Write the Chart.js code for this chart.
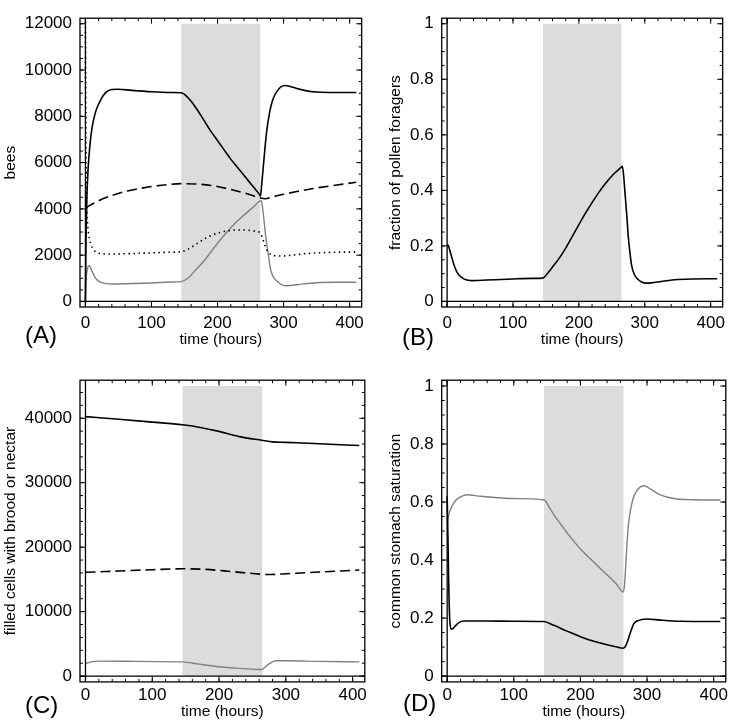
<!DOCTYPE html>
<html>
<head>
<meta charset="utf-8">
<script src="https://cdn.jsdelivr.net/npm/chart.js@4.4.1/dist/chart.umd.min.js"></script>
<style>
html, body { margin: 0; padding: 0; background: #fff; overflow: hidden; }
#fig { position: relative; width: 729px; height: 723px; }
#fig canvas { position: absolute; }
.tag { position: absolute; font: 24px "Liberation Sans", Arial, sans-serif; line-height: 24px; color: #000; }
</style>
</head>
<body>
<div id="fig">
  <canvas id="chartA" width="370" height="352" style="left:0;top:0"></canvas>
  <canvas id="chartB" width="361" height="352" style="left:370px;top:0"></canvas>
  <canvas id="chartC" width="370" height="361" style="left:0;top:362px"></canvas>
  <canvas id="chartD" width="361" height="361" style="left:370px;top:362px"></canvas>
  <div class="tag" style="left:25px;top:323px">(A)</div>
  <div class="tag" style="left:402px;top:325px">(B)</div>
  <div class="tag" style="left:25px;top:693px">(C)</div>
  <div class="tag" style="left:403px;top:691px">(D)</div>
</div>
<script>
// time axis and the shaded interval (hours)
var hourTicks = [0, 100, 200, 300, 400];
var shadeHours = [145, 265];

// (A) bees
var beesTicks = [0, 2000, 4000, 6000, 8000, 10000, 12000];
var beesLabels = ['0', '2000', '4000', '6000', '8000', '10000', '12000'];
var hA1 = [0, 0.5, 1, 2, 4, 7, 10, 14, 18, 22, 27, 33, 40, 50, 70, 100, 130, 145, 150, 160, 170, 180, 190, 200, 210, 220, 230, 240, 250, 258, 264, 265, 267, 270, 274, 279, 284, 290, 296, 302, 310, 320, 335, 350, 380, 410];
var beesSolid = [0, 1500, 2800, 4300, 5700, 6800, 7500, 8050, 8400, 8650, 8900, 9080, 9160, 9170, 9120, 9060, 9030, 9020, 8950, 8650, 8250, 7800, 7350, 6950, 6550, 6150, 5800, 5450, 5100, 4820, 4600, 4550, 5100, 6050, 7250, 8200, 8750, 9080, 9270, 9330, 9290, 9200, 9100, 9050, 9030, 9030];
var hA2 = [0, 20, 40, 65, 90, 115, 145, 170, 195, 220, 245, 264, 272, 285, 300, 320, 345, 370, 390, 410];
var beesDashed = [4050, 4350, 4580, 4780, 4920, 5020, 5090, 5070, 4990, 4840, 4650, 4480, 4440, 4530, 4630, 4750, 4880, 4990, 5070, 5150];
var hA3 = [0, 0.5, 1, 2, 3, 5, 8, 12, 17, 25, 40, 70, 100, 130, 145, 155, 170, 185, 200, 215, 230, 245, 258, 264, 268, 272, 276, 282, 290, 300, 315, 335, 360, 390, 410];
var beesDotted = [12300, 8500, 6000, 4200, 3500, 2900, 2500, 2250, 2120, 2060, 2050, 2070, 2100, 2130, 2150, 2250, 2520, 2780, 2950, 3050, 3090, 3080, 3030, 2980, 2750, 2400, 2150, 2010, 1970, 1965, 2010, 2070, 2110, 2130, 2130];
var hA4 = [0, 1, 3, 5, 7, 10, 15, 20, 25, 32, 40, 60, 100, 130, 145, 155, 165, 180, 195, 210, 225, 240, 255, 263, 266, 268, 270, 272, 275, 278, 280, 284, 290, 296, 302, 310, 325, 350, 380, 410];
var beesGrey = [0, 900, 1400, 1550, 1500, 1300, 1020, 880, 810, 770, 755, 765, 800, 840, 855, 1000, 1300, 1770, 2330, 2860, 3340, 3730, 4100, 4320, 4350, 4100, 3600, 3050, 2390, 1800, 1420, 1080, 880, 740, 680, 690, 740, 810, 830, 830];

// (B) fraction of pollen foragers
var fracTicks = [0, 0.2, 0.4, 0.6, 0.8, 1];
var fracLabels = ['0', '0.2', '0.4', '0.6', '0.8', '1'];
var hB = [0, 2, 4, 7, 10, 14, 18, 24, 30, 40, 60, 100, 130, 145, 152, 160, 170, 180, 190, 200, 210, 220, 230, 240, 250, 258, 264, 266, 268, 270, 273, 275, 278, 280, 284, 290, 296, 302, 310, 325, 345, 370, 410];
var pollenFrac = [0.205, 0.2, 0.185, 0.16, 0.135, 0.11, 0.095, 0.083, 0.077, 0.075, 0.077, 0.081, 0.083, 0.084, 0.1, 0.124, 0.155, 0.192, 0.234, 0.277, 0.318, 0.356, 0.392, 0.424, 0.452, 0.47, 0.483, 0.487, 0.45, 0.39, 0.3, 0.232, 0.165, 0.13, 0.098, 0.079, 0.069, 0.066, 0.067, 0.072, 0.078, 0.081, 0.082];

// (C) filled cells with brood or nectar
var cellTicks = [0, 10000, 20000, 30000, 40000];
var cellLabels = ['0', '10000', '20000', '30000', '40000'];
var hC1 = [0, 50, 100, 145, 170, 200, 230, 264, 280, 300, 350, 410];
var cellsSolid = [40250, 39850, 39400, 38980, 38600, 37960, 37150, 36580, 36330, 36250, 36050, 35760];
var hC2 = [0, 50, 100, 145, 180, 220, 264, 275, 300, 350, 410];
var cellsDashed = [16100, 16300, 16500, 16650, 16550, 16200, 15800, 15750, 15880, 16150, 16450];
var hC3 = [0, 10, 20, 60, 100, 145, 170, 200, 230, 264, 268, 275, 285, 300, 350, 410];
var cellsGrey = [1950, 2250, 2330, 2300, 2250, 2200, 1850, 1450, 1200, 1030, 1300, 1900, 2380, 2380, 2280, 2200];

// (D) common stomach saturation
var hD1 = [0, 1, 2, 3, 4, 6, 8, 12, 18, 25, 60, 100, 145, 160, 180, 200, 220, 240, 255, 264, 267, 270, 275, 280, 285, 292, 300, 320, 350, 410];
var stomachBlack = [0.62, 0.5, 0.36, 0.25, 0.19, 0.162, 0.163, 0.172, 0.185, 0.19, 0.19, 0.189, 0.188, 0.175, 0.155, 0.136, 0.12, 0.108, 0.1, 0.096, 0.1, 0.115, 0.15, 0.18, 0.19, 0.195, 0.197, 0.193, 0.189, 0.188];
var hD2 = [0, 3, 6, 10, 15, 20, 30, 50, 100, 145, 155, 165, 180, 200, 220, 240, 255, 264, 266, 268, 270, 272, 275, 280, 285, 290, 296, 305, 320, 340, 370, 410];
var stomachGrey = [0.53, 0.56, 0.58, 0.597, 0.61, 0.618, 0.625, 0.62, 0.612, 0.608, 0.575, 0.54, 0.494, 0.438, 0.393, 0.349, 0.315, 0.29, 0.31, 0.38, 0.46, 0.52, 0.57, 0.618, 0.64, 0.652, 0.656, 0.645, 0.625, 0.612, 0.608, 0.607];

var FONT = '"Liberation Sans", Arial, Helvetica, sans-serif';
var BLACK = '#000000';
var GREY = '#808080';
var SHADE = '#dcdcdc';

function line(xs, ys, color, width, dash) {
    return {
        data: xs.map(function(x, i) { return {x: x, y: ys[i]}; }),
        borderColor: color,
        borderWidth: width,
        borderDash: dash || [],
        pointRadius: 0,
        fill: false,
        cubicInterpolationMode: 'monotone',
        order: 1
    };
}

function shade(top) {
    return {
        data: shadeHours.map(function(x) { return {x: x, y: top}; }),
        borderWidth: 0,
        borderColor: 'rgba(0,0,0,0)',
        backgroundColor: SHADE,
        fill: 'origin',
        pointRadius: 0,
        order: 9
    };
}

// Mathematica-like frame: box, inward ticks on all sides, axes through zero
var framePlugin = {
    id: 'frame',
    afterDraw: function(chart, args, opts) {
        var ctx = chart.ctx, a = chart.chartArea;
        var xs = chart.scales.x, ys = chart.scales.y;
        ctx.save();
        ctx.strokeStyle = '#000';
        ctx.lineWidth = 1.3;
        var x0 = xs.getPixelForValue(0), y0 = ys.getPixelForValue(0);
        ctx.beginPath();
        ctx.moveTo(x0, a.top); ctx.lineTo(x0, a.bottom);
        ctx.moveTo(a.left, y0); ctx.lineTo(a.right, y0);
        ctx.stroke();

        ctx.lineWidth = 1;
        ctx.beginPath();
        function xMark(v, len) {
            var p = xs.getPixelForValue(v);
            ctx.moveTo(p, a.bottom); ctx.lineTo(p, a.bottom - len);
            ctx.moveTo(p, a.top); ctx.lineTo(p, a.top + len);
        }
        function yMark(v, len) {
            var p = ys.getPixelForValue(v);
            ctx.moveTo(a.left, p); ctx.lineTo(a.left + len, p);
            ctx.moveTo(a.right, p); ctx.lineTo(a.right - len, p);
        }
        var v;
        for (v = 0; v <= xs.max; v += opts.xMinor) xMark(v, 3);
        for (v = 0; v <= ys.max + 1e-9; v += opts.yMinor) yMark(v, 3);
        xs.ticks.forEach(function(t) { xMark(t.value, 5.5); });
        ys.ticks.forEach(function(t) { yMark(t.value, 5.5); });
        ctx.stroke();

        ctx.lineWidth = 1.3;
        ctx.strokeRect(a.left, a.top, a.right - a.left, a.bottom - a.top);
        ctx.restore();
    }
};

function panel(id, o) {
    return new Chart(document.getElementById(id), {
        type: 'line',
        data: { datasets: o.datasets },
        options: {
            responsive: false,
            animation: false,
            events: [],
            layout: { padding: o.pad },
            plugins: {
                legend: { display: false },
                tooltip: { enabled: false },
                frame: { xMinor: 20, yMinor: o.yMinor }
            },
            scales: {
                x: {
                    type: 'linear',
                    min: -8.2,
                    max: 418.2,
                    afterBuildTicks: function(s) { s.ticks = hourTicks.map(function(v) { return {value: v}; }); },
                    afterFit: function(s) { s.height = o.xh; },
                    ticks: { autoSkip: false, maxRotation: 0, padding: o.xpad, color: '#000', font: { family: FONT, size: 17 } },
                    grid: { display: false, drawTicks: false },
                    border: { display: false },
                    title: { display: true, text: 'time (hours)', color: '#000', font: { family: FONT, size: 15.5 }, padding: { top: 0, bottom: 0 } }
                },
                y: {
                    type: 'linear',
                    min: o.ymin,
                    max: o.ymax,
                    afterBuildTicks: function(s) { s.ticks = o.yTicks.map(function(v) { return {value: v}; }); },
                    afterFit: function(s) { s.width = o.yw; },
                    ticks: {
                        autoSkip: false, padding: 8, color: '#000', font: { family: FONT, size: 17 },
                        callback: function(v, i) { return o.yLabels[i]; }
                    },
                    grid: { display: false, drawTicks: false },
                    border: { display: false },
                    title: { display: true, text: o.ytitle, color: '#000', font: { family: FONT, size: 15.5 }, padding: { top: 1, bottom: 0 } }
                }
            }
        },
        plugins: [framePlugin]
    });
}

panel('chartA', {
    datasets: [
        line(hA1, beesSolid, BLACK, 1.6),
        line(hA2, beesDashed, BLACK, 1.6, [10, 5]),
        line(hA3, beesDotted, BLACK, 1.6, [1.5, 3.5]),
        line(hA4, beesGrey, GREY, 1.4),
        shade(12000)
    ],
    ymin: -240, ymax: 12240, yTicks: beesTicks, yLabels: beesLabels, yMinor: 500,
    ytitle: 'bees', yw: 80, xh: 42.3, xpad: 6,
    pad: { left: 0, top: 1.5, right: 4, bottom: 2.7 }
});

panel('chartB', {
    datasets: [
        line(hB, pollenFrac, BLACK, 1.6),
        shade(1)
    ],
    ymin: -0.02, ymax: 1.02, yTicks: fracTicks, yLabels: fracLabels, yMinor: 0.05,
    ytitle: 'fraction of pollen foragers', yw: 56.7, xh: 42.3, xpad: 6,
    pad: { left: 15, top: 1.5, right: 3.3, bottom: 2.7 }
});

panel('chartC', {
    datasets: [
        line(hC1, cellsSolid, BLACK, 1.6),
        line(hC2, cellsDashed, BLACK, 1.6, [10, 5]),
        line(hC3, cellsGrey, GREY, 1.4),
        shade(45000)
    ],
    ymin: -900, ymax: 45900, yTicks: cellTicks, yLabels: cellLabels, yMinor: 2000,
    ytitle: 'filled cells with brood or nectar', yw: 80, xh: 39.3, xpad: 3,
    pad: { left: 0, top: 14.5, right: 4, bottom: 1.8 }
});

panel('chartD', {
    datasets: [
        line(hD1, stomachBlack, BLACK, 1.6),
        line(hD2, stomachGrey, GREY, 1.4),
        shade(1)
    ],
    ymin: -0.02, ymax: 1.02, yTicks: fracTicks, yLabels: fracLabels, yMinor: 0.05,
    ytitle: 'common stomach saturation', yw: 56.7, xh: 39.3, xpad: 3,
    pad: { left: 15, top: 14.5, right: 3.3, bottom: 1.8 }
});
</script>
</body>
</html>
